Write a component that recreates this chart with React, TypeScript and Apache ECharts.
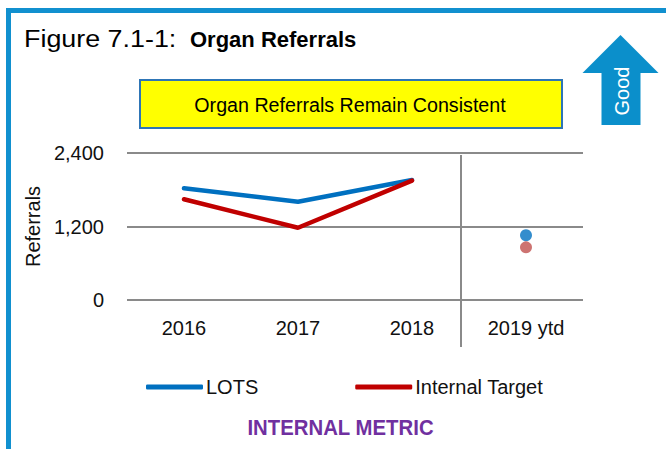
import React, { useEffect, useRef } from "react";
import * as echarts from "echarts";

const categories = ["2016", "2017", "2018", "2019 ytd"];
const lotsValues = [1825, 1605, 1960, null];
const targetValues = [1645, 1180, 1950, null];
const lotsYtd = [null, null, null, 1058];
const targetYtd = [null, null, null, 860];
const yTicks = { min: 0, max: 2400, interval: 1200 };

const SANS = "'Liberation Sans', Arial, sans-serif";

export default function App() {
  const ref = useRef<HTMLDivElement>(null);
  useEffect(() => {
    if (!ref.current) return;
    const chart = echarts.init(ref.current, undefined, { renderer: "svg" });
    chart.setOption({
      animation: false,
      backgroundColor: "#ffffff",
      grid: { left: 127, right: 83, top: 153, bottom: 149 },
      xAxis: {
        type: "category",
        data: categories,
        boundaryGap: true,
        axisLine: { show: false },
        axisTick: { show: false },
        axisLabel: { color: "#111", fontFamily: SANS, fontSize: 20, margin: 18, interval: 0 },
      },
      yAxis: {
        type: "value",
        min: yTicks.min,
        max: yTicks.max,
        interval: yTicks.interval,
        name: "Referrals",
        nameLocation: "middle",
        nameGap: 73,
        nameTextStyle: { color: "#111", fontFamily: SANS, fontSize: 20 },
        axisLabel: {
          color: "#111",
          fontFamily: SANS,
          fontSize: 20,
          margin: 23,
          formatter: (v: number) => v.toLocaleString("en-US"),
        },
        splitLine: { lineStyle: { color: "#8a8a8a", width: 2 } },
        axisLine: { show: false },
        axisTick: { show: false },
      },
      legend: {
        left: 146,
        top: 377,
        padding: 0,
        itemGap: 97,
        itemWidth: 57,
        itemHeight: 5,
        icon: "roundRect",
        textStyle: { color: "#111", fontFamily: SANS, fontSize: 20, padding: [0, 0, 0, -2] },
        data: ["LOTS", "Internal Target"],
      },
      series: [
        {
          name: "LOTS",
          type: "line",
          data: lotsValues,
          showSymbol: false,
          symbol: "none",
          lineStyle: { color: "#0070C0", width: 4.5, cap: "round" },
          itemStyle: { color: "#0070C0" },
        },
        {
          name: "Internal Target",
          type: "line",
          data: targetValues,
          showSymbol: false,
          symbol: "none",
          lineStyle: { color: "#C00000", width: 4.5, cap: "round" },
          itemStyle: { color: "#C00000" },
        },
        {
          name: "LOTS ytd",
          type: "scatter",
          data: lotsYtd,
          symbolSize: 12,
          itemStyle: { color: "#0070C0" },
        },
        {
          name: "Target ytd",
          type: "scatter",
          data: targetYtd,
          symbolSize: 12,
          itemStyle: { color: "#C0504D" },
        },
      ],
      graphic: [
        {
          type: "rect",
          shape: { x: 8.5, y: 10.5, width: 700, height: 500 },
          style: { fill: "none", stroke: "#1190CF", lineWidth: 5 },
          silent: true,
        },
        {
          type: "text",
          x: 24,
          y: 39,
          scaleX: 1.12,
          style: { text: "Figure 7.1-1:", fontFamily: SANS, fontSize: 24, fill: "#000", verticalAlign: "middle" },
        },
        {
          type: "text",
          x: 190,
          y: 39,
          style: { text: "Organ Referrals", fontFamily: SANS, fontWeight: "bold", fontSize: 22, fill: "#000", verticalAlign: "middle" },
        },
        {
          type: "rect",
          shape: { x: 140, y: 80, width: 422, height: 48 },
          style: { fill: "#FFFF00", stroke: "#2E75B6", lineWidth: 2 },
        },
        {
          type: "text",
          x: 350,
          y: 104.5,
          scaleX: 0.937,
          style: { text: "Organ Referrals Remain Consistent", fontFamily: SANS, fontSize: 21, fill: "#000", align: "center", verticalAlign: "middle" },
        },
        {
          type: "polygon",
          shape: {
            points: [
              [620.5, 35],
              [658.5, 73],
              [640.5, 73],
              [640.5, 125],
              [601.5, 125],
              [601.5, 73],
              [582.5, 73],
            ],
          },
          style: { fill: "#0B8FCB" },
        },
        {
          type: "text",
          x: 622,
          y: 91,
          rotation: Math.PI / 2,
          style: { text: "Good", fontFamily: SANS, fontSize: 20, fill: "#ffffff", align: "center", verticalAlign: "middle" },
        },
        {
          type: "line",
          shape: { x1: 461, y1: 155, x2: 461, y2: 347 },
          style: { stroke: "#8a8a8a", lineWidth: 2 },
        },
        {
          type: "text",
          x: 340.5,
          y: 427,
          scaleX: 0.925,
          style: { text: "INTERNAL METRIC", fontFamily: SANS, fontWeight: "bold", fontSize: 22, fill: "#7030A0", align: "center", verticalAlign: "middle" },
        },
      ],
    });
    return () => chart.dispose();
  }, []);
  return <div ref={ref} style={{ position: "absolute", left: 0, top: 0, width: 666, height: 449 }} />;
}
